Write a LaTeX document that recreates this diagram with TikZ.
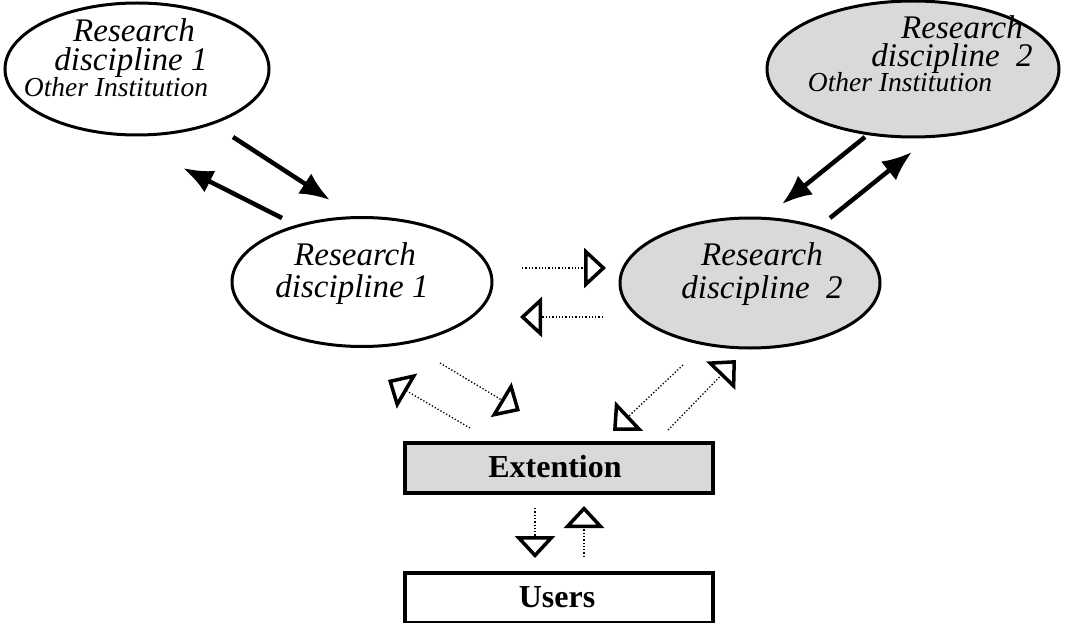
\documentclass[tikz,border=0pt]{standalone}
\usepackage{fontspec}
\setmainfont{Liberation Serif}
\usetikzlibrary{shapes.geometric,arrows.meta}
\newcommand{\subline}{\fontsize{27.5}{27.5}\selectfont}
\begin{document}
\begin{tikzpicture}[x=1pt,y=-1pt,
  shaded/.style={fill=black!15},
  discnode/.style={ellipse,draw,line width=3pt,inner sep=0pt},
  boxnode/.style={rectangle,draw,line width=3.5pt,inner sep=0pt,minimum width=308pt,minimum height=50pt},
  disctext/.style={font={\fontsize{33}{#1}\selectfont\itshape\lineskiplimit=-100pt},
                   align=center,anchor=north,inner sep=0pt},
  disctext/.default=29pt,
  boxtext/.style={font=\fontsize{32}{32}\selectfont\bfseries,anchor=base,inner sep=0pt},
  solidarrow/.style={line width=4.5pt,-{Latex[length=30pt,width=24pt]}},
  dotarrow/.style={dotted,line width=1.3pt,-{Triangle[open,length=22pt,width=40pt,line width=3.5pt]}}]
\useasboundingbox (0,0) rectangle (1066,623);

% discipline ellipses
\node[discnode,minimum width=264pt,minimum height=132pt] (tl) at (137,69) {};
\node[discnode,shaded,minimum width=292pt,minimum height=136pt] (tr) at (913,69) {};
\node[discnode,minimum width=260pt,minimum height=129pt] (ml) at (362,282) {};
\node[discnode,shaded,minimum width=260pt,minimum height=130pt] (mr) at (750,283) {};

% extension and users boxes
\node[boxnode,shaded] (ext) at (559,468) {};
\node[boxnode] (users) at (559,598) {};

% labels (top of node = top of first line, about 23pt above its baseline)
\node[disctext=29pt] (tlt) at (133,18)
  {\hspace*{2pt}Research\\ \hspace*{-4pt}discipline 1\\[-3pt] \hspace*{-34pt}{\subline Other Institution}};
\node[disctext=28pt] (trt) at (952,15)
  {\hspace*{20pt}Research\\ discipline\ \ 2\\[-3pt] \hspace*{-104pt}{\subline Other Institution}};
\node[disctext=32pt] (mlt) at (352,242)
  {\hspace*{6pt}Research\\ discipline 1};
\node[disctext=33pt] (mrt) at (762,242)
  {Research\\ discipline\ \ 2};

\node[boxtext] (extl) at (555,477) {Extention};
\node[boxtext] (usersl) at (557,607) {Users};

% connector end points
\coordinate (a1) at (233,137);  \coordinate (a2) at (330,200);
\coordinate (b1) at (282,218);  \coordinate (b2) at (183,168);
\coordinate (c1) at (865,137);  \coordinate (c2) at (782,204);
\coordinate (d1) at (830,218);  \coordinate (d2) at (912,152);

\coordinate (e1) at (522,268);  \coordinate (e2) at (606,268);
\coordinate (f1) at (603,317);  \coordinate (f2) at (520,317);

\coordinate (g1) at (440,363);  \coordinate (g2) at (520,411);
\coordinate (h1) at (470,428);  \coordinate (h2) at (388,380);
\coordinate (i1) at (683,365);  \coordinate (i2) at (613,431);
\coordinate (j1) at (668,430);  \coordinate (j2) at (736,360);

\coordinate (k1) at (535,508);  \coordinate (k2) at (535,558);
\coordinate (l1) at (584,557);  \coordinate (l2) at (584,506);

% exchange with other institutions
\draw[solidarrow] (a1) -- (a2);
\draw[solidarrow] (b1) -- (b2);
\draw[solidarrow] (c1) -- (c2);
\draw[solidarrow] (d1) -- (d2);

% exchange between disciplines
\draw[dotarrow] (e1) -- (e2);
\draw[dotarrow] (f1) -- (f2);

% exchange with extension
\draw[dotarrow] (g1) -- (g2);
\draw[dotarrow] (h1) -- (h2);
\draw[dotarrow] (i1) -- (i2);
\draw[dotarrow] (j1) -- (j2);

% exchange with users
\draw[dotarrow] (k1) -- (k2);
\draw[dotarrow] (l1) -- (l2);
\end{tikzpicture}
\end{document}
